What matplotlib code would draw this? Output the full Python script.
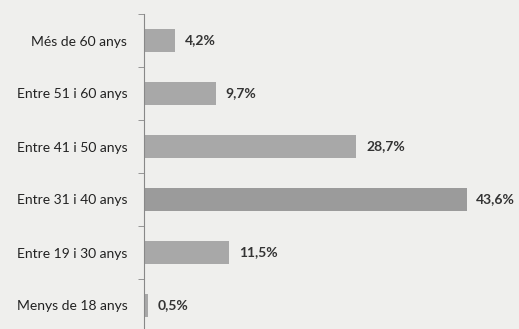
import matplotlib.pyplot as plt
import numpy as np

categories = ["Menys de 18 anys", "Entre 19 i 30 anys", "Entre 31 i 40 anys",
              "Entre 41 i 50 anys", "Entre 51 i 60 anys", "Més de 60 anys"]
values = [0.5, 11.5, 43.6, 28.7, 9.7, 4.2]
value_labels = ["0,5%", "11,5%", "43,6%", "28,7%", "9,7%", "4,2%"]

plt.rcParams['font.family'] = ['Lato', 'DejaVu Sans']

fig = plt.figure(figsize=(5.19, 3.29), dpi=100)
fig.patch.set_facecolor('#efefed')
ax = fig.add_axes([144/519, -3/329, 370/519, 318/329])
ax.set_facecolor('#efefed')

colors = ['#a8a8a8'] * len(values)
colors[2] = '#9b9b9b'
y = np.arange(len(categories))
bars = ax.barh(y, values, height=0.42, color=colors)

for bar, lab in zip(bars, value_labels):
    ax.annotate(lab, (bar.get_width(), bar.get_y() + bar.get_height() / 2),
                xytext=(7, 0), textcoords='offset points', va='center', ha='left',
                fontsize=10, fontweight='bold', color='#333333')

ax.set_xlim(0, 50)
ax.set_ylim(-0.5, len(categories) - 0.5)
ax.set_yticks(y)
ax.set_yticklabels(categories, fontsize=10, color='#222222')
ax.set_yticks(np.arange(len(categories) + 1) - 0.5, minor=True)
ax.tick_params(axis='y', which='major', length=0, pad=12)
ax.tick_params(axis='y', which='minor', length=4, color='#888888')
ax.set_xticks([])
for s in ['top', 'right', 'bottom']:
    ax.spines[s].set_visible(False)
ax.spines['left'].set_color('#888888')

fig.savefig('out.png', dpi=100, facecolor=fig.get_facecolor())
